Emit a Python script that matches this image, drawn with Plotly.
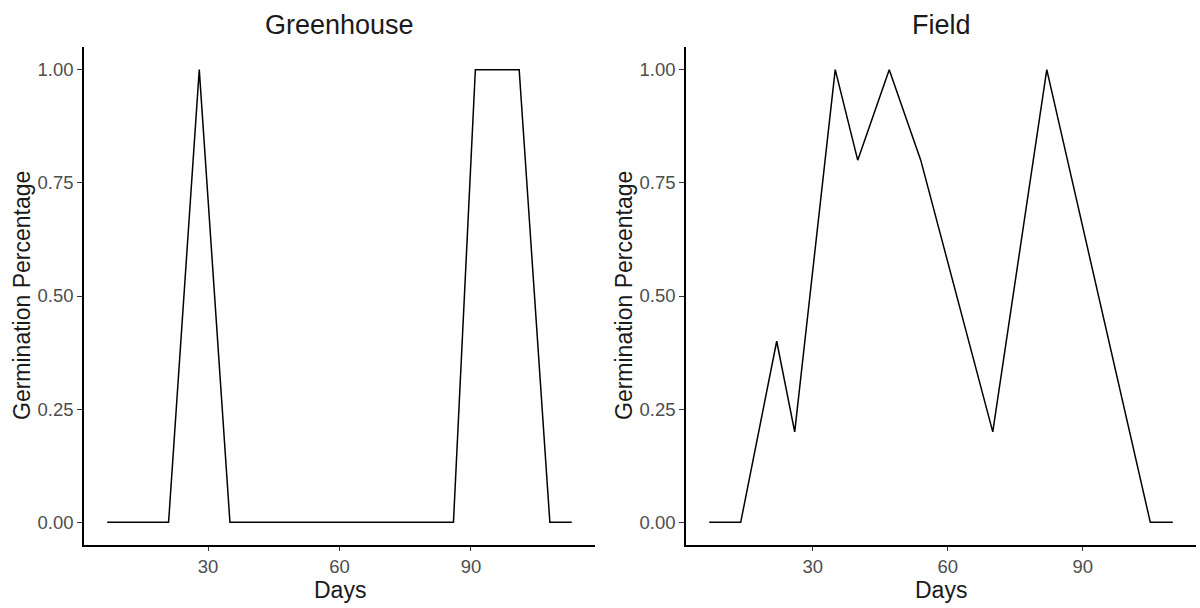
import plotly.graph_objects as go

# Data
gh_days = [7, 21, 28, 35, 86, 91, 101, 108, 113]
gh_germ = [0, 0, 1, 0, 0, 1, 1, 0, 0]
field_days = [7, 14, 22, 26, 35, 40, 47, 54, 70, 82, 105, 110]
field_germ = [0, 0, 0.4, 0.2, 1, 0.8, 1, 0.8, 0.2, 1, 0, 0]
panel_titles = ["Greenhouse", "Field"]
x_ticks = [30, 60, 90]
y_ticks = [0, 0.25, 0.5, 0.75, 1.0]
y_ticklabels = ["0.00", "0.25", "0.50", "0.75", "1.00"]

W, H = 1200, 608
FONT = "Liberation Sans, Arial, sans-serif"
TICK_COL = "#4D4D4D"
TITLE_COL = "#1A1A1A"

dom1 = [84 / W, 595 / W]
dom2 = [686 / W, 1196 / W]
ydom = [(H - 545) / H, (H - 47) / H]

fig = go.Figure()
fig.add_trace(go.Scatter(x=gh_days, y=gh_germ, mode="lines",
                         line=dict(color="black", width=1.5),
                         xaxis="x", yaxis="y", showlegend=False))
fig.add_trace(go.Scatter(x=field_days, y=field_germ, mode="lines",
                         line=dict(color="black", width=1.5),
                         xaxis="x2", yaxis="y2", showlegend=False))


def xr(d):
    lo, hi = min(d), max(d)
    e = (hi - lo) * 0.05
    return [lo - e, hi + e]


xcommon = dict(showgrid=False, zeroline=False, showline=True, linecolor="black",
               linewidth=1.6, ticks="outside", ticklen=4, tickwidth=1.4,
               tickcolor="#333333", tickvals=x_ticks,
               tickfont=dict(family=FONT, size=18.5, color=TICK_COL))
ycommon = dict(showgrid=False, zeroline=False, showline=True, linecolor="black",
               linewidth=1.6, ticks="outside", ticklen=5, tickwidth=1.4,
               tickcolor="#333333", tickvals=y_ticks, ticktext=y_ticklabels,
               range=[-0.05, 1.05],
               tickfont=dict(family=FONT, size=18.5, color=TICK_COL))

fig.update_layout(
    width=W, height=H, margin=dict(l=0, r=0, t=0, b=0),
    plot_bgcolor="white", paper_bgcolor="white",
    xaxis=dict(domain=dom1, range=xr(gh_days), anchor="y", **xcommon),
    yaxis=dict(domain=ydom, anchor="x", **ycommon),
    xaxis2=dict(domain=dom2, range=xr(field_days), anchor="y2", **xcommon),
    yaxis2=dict(domain=ydom, anchor="x2", **ycommon),
)

anns = []
for dom, title in zip([dom1, dom2], panel_titles):
    cx = (dom[0] + dom[1]) / 2
    anns.append(dict(text=title, x=cx, y=1 - 25 / H, xref="paper", yref="paper",
                     xanchor="center", yanchor="middle", showarrow=False,
                     font=dict(family=FONT, size=27, color=TITLE_COL)))
    anns.append(dict(text="Days", x=cx, y=1 - 590 / H, xref="paper", yref="paper",
                     xanchor="center", yanchor="middle", showarrow=False,
                     font=dict(family=FONT, size=23, color=TITLE_COL)))
    anns.append(dict(text="Germination Percentage", x=dom[0] - 62 / W,
                     y=(ydom[0] + ydom[1]) / 2, xref="paper", yref="paper",
                     xanchor="center", yanchor="middle", showarrow=False,
                     textangle=-90,
                     font=dict(family=FONT, size=23, color=TITLE_COL)))
fig.update_layout(annotations=anns)

fig.write_html("out.html")
